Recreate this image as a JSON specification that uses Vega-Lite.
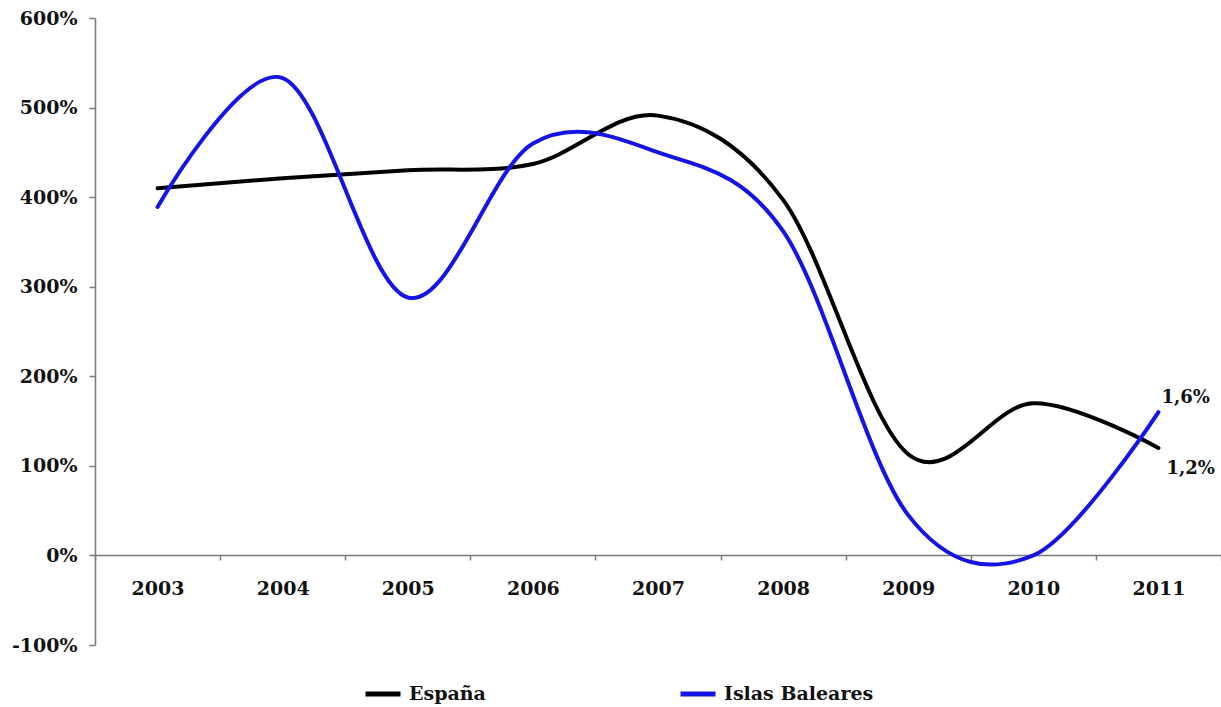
{
  "$schema": "https://vega.github.io/schema/vega-lite/v6.json",
  "width": 1126,
  "height": 627,
  "autosize": {"type": "none"},
  "padding": {"left": 95, "top": 18, "right": 0, "bottom": 62},
  "background": "#ffffff",
  "config": {
    "view": {"stroke": null},
    "font": "DejaVu Serif",
    "axis": {"labelFont": "DejaVu Serif", "labelFontWeight": "bold", "labelFontSize": 19, "labelColor": "#111111", "grid": false, "domainColor": "#7a7a7a", "domainWidth": 1.5, "tickColor": "#7a7a7a", "tickWidth": 1.5, "title": null},
    "legend": {"labelFont": "DejaVu Serif", "labelFontWeight": "bold", "labelFontSize": 19, "labelColor": "#111111"}
  },
  "data": {
    "values": [
      {"year": "2003", "serie": "España", "v": 4.1},
      {"year": "2004", "serie": "España", "v": 4.21},
      {"year": "2005", "serie": "España", "v": 4.3},
      {"year": "2006", "serie": "España", "v": 4.37},
      {"year": "2007", "serie": "España", "v": 4.91},
      {"year": "2008", "serie": "España", "v": 3.97},
      {"year": "2009", "serie": "España", "v": 1.13},
      {"year": "2010", "serie": "España", "v": 1.7},
      {"year": "2011", "serie": "España", "v": 1.2, "label": "1,2%"},
      {"year": "2003", "serie": "Islas Baleares", "v": 3.89},
      {"year": "2004", "serie": "Islas Baleares", "v": 5.33},
      {"year": "2005", "serie": "Islas Baleares", "v": 2.88},
      {"year": "2006", "serie": "Islas Baleares", "v": 4.6},
      {"year": "2007", "serie": "Islas Baleares", "v": 4.5},
      {"year": "2008", "serie": "Islas Baleares", "v": 3.62},
      {"year": "2009", "serie": "Islas Baleares", "v": 0.45},
      {"year": "2010", "serie": "Islas Baleares", "v": 0.0},
      {"year": "2011", "serie": "Islas Baleares", "v": 1.6, "label": "1,6%"}
    ]
  },
  "layer": [
    {
      "mark": {"type": "line", "interpolate": "cardinal", "strokeWidth": 4, "strokeCap": "round"},
      "encoding": {
        "x": {"field": "year", "type": "ordinal", "bandPosition": 0.5,
              "scale": {"type": "band", "paddingInner": 0, "paddingOuter": 0},
              "axis": {"orient": "bottom", "offset": -90, "tickBand": "extent", "tickSize": 5, "labelPadding": 19, "labelAngle": 0}},
        "y": {"field": "v", "type": "quantitative",
              "scale": {"domain": [-1, 6], "nice": false, "zero": false},
              "axis": {"values": [-1, 0, 1, 2, 3, 4, 5, 6], "labelExpr": "(datum.value < 0 ? '-' : '') + format(abs(datum.value), '.0%')", "tickSize": 6, "labelPadding": 12}},
        "color": {"field": "serie", "type": "nominal",
                  "scale": {"domain": ["España", "Islas Baleares"], "range": ["#000000", "#1414e6"]},
                  "legend": {"title": null, "orient": "none", "legendX": 268, "legendY": 656, "direction": "horizontal", "columns": 2, "columnPadding": 184, "symbolType": "stroke", "symbolSize": 1225, "symbolStrokeWidth": 5, "labelOffset": 6}}
      }
    },
    {
      "transform": [{"filter": "datum.serie === 'Islas Baleares' && datum.year === '2011'"}],
      "mark": {"type": "text", "align": "left", "baseline": "middle", "dx": 3, "dy": -14, "fontSize": 18, "fontWeight": "bold", "font": "DejaVu Serif", "color": "#111111"},
      "encoding": {
        "x": {"field": "year", "type": "ordinal", "bandPosition": 0.5},
        "y": {"field": "v", "type": "quantitative"},
        "text": {"field": "label"}
      }
    },
    {
      "transform": [{"filter": "datum.serie === 'España' && datum.year === '2011'"}],
      "mark": {"type": "text", "align": "left", "baseline": "middle", "dx": 8, "dy": 21, "fontSize": 18, "fontWeight": "bold", "font": "DejaVu Serif", "color": "#111111"},
      "encoding": {
        "x": {"field": "year", "type": "ordinal", "bandPosition": 0.5},
        "y": {"field": "v", "type": "quantitative"},
        "text": {"field": "label"}
      }
    }
  ]
}
